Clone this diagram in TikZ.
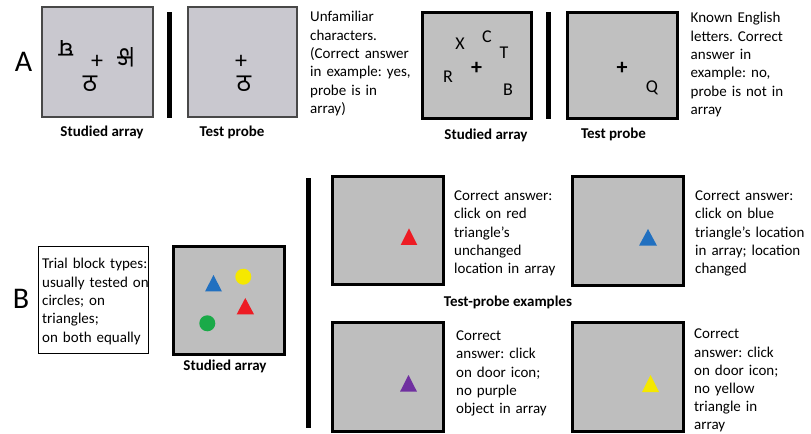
\documentclass[tikz,border=0pt]{standalone}
\usepackage{fontspec}
\setmainfont{Carlito}
\newfontfamily\devfont[Script=Devanagari]{Noto Sans}
\frenchspacing
\definecolor{boxAfill}{RGB}{201,200,207}
\definecolor{boxAline}{RGB}{72,72,72}
\definecolor{boxGray}{RGB}{192,192,192}
\definecolor{boxBGray}{RGB}{190,190,190}
\definecolor{triRed}{RGB}{237,28,36}
\definecolor{triBlue}{RGB}{33,112,192}
\definecolor{triYellow}{RGB}{245,232,0}
\definecolor{triGreen}{RGB}{26,170,72}
\definecolor{triPurple}{RGB}{112,48,160}
\tikzset{
  txt/.style={anchor=base west, inner sep=0pt, text width=150bp, align=left,
    font=\fontsize{15bp}{18.3bp}\selectfont\frenchspacing},
  txtb/.style={txt, font=\fontsize{15bp}{18.1bp}\selectfont\frenchspacing},
  capt/.style={anchor=base, inner sep=0pt, font=\fontsize{15bp}{18bp}\selectfont\bfseries},
  panel/.style={anchor=base, inner sep=0pt, font=\fontsize{30bp}{32bp}\selectfont},
  softbox/.style={draw=boxAline, line width=1.6bp, fill=boxAfill},
  hardbox/.style={draw=black, line width=3bp, fill=boxGray},
  bbox/.style={draw=black, line width=3bp, fill=boxBGray},
  bar/.style={fill=black, draw=none},
  glyph/.style={inner sep=0pt, font=\devfont\fontsize{25bp}{26bp}\selectfont},
  fixthin/.style={inner sep=0pt, font=\fontsize{24bp}{24bp}\selectfont},
  fixbold/.style={inner sep=0pt, font=\fontsize{22bp}{22bp}\selectfont\bfseries},
  letter/.style={inner sep=0pt, font=\fontsize{18bp}{18bp}\selectfont},
}
\begin{document}
\begin{tikzpicture}[x=1bp,y=-1bp]
\useasboundingbox (0,0) rectangle (811,434);

% ---------------- Panel A ----------------
\node[panel] (labA) at (23.5,72) {A};

\draw[softbox] (42,7) rectangle (153,117);
\node[glyph, rotate=180] (c1) at (66,48) {घ};
\node[fixthin] (p1) at (97,62) {+};
\node[glyph] (c2) at (90,84) {ठ};
\node[glyph, rotate=-90] (c3) at (125,57) {क};
\node[capt] (capA1) at (102,136.5) {Studied array};

\fill[bar] (167,12) rectangle (172,118);

\draw[softbox] (188,7) rectangle (297,117);
\node[fixthin] (p2) at (241,62) {+};
\node[glyph] (c4) at (244,84) {ठ};
\node[capt] (capA2) at (232,136.5) {Test probe};

\node[txt] (tA1) at (310,22) {Unfamiliar\\characters.\\(Correct answer\\in example: yes,\\probe is in\\array)};

\draw[hardbox] (422,13) rectangle (531,119);
\node[letter] (lX) at (460,44) {X};
\node[letter] (lC) at (487,37) {C};
\node[letter] (lT) at (504,53) {T};
\node[fixbold] (p3) at (476.5,68) {+};
\node[letter] (lR) at (448,77) {R};
\node[letter] (lB) at (508,89.5) {B};
\node[capt] (capA3) at (486,139.5) {Studied array};

\fill[bar] (546,12) rectangle (551,119);

\draw[hardbox] (567,13) rectangle (677,119);
\node[fixbold] (p4) at (622,68) {+};
\node[letter] (lQ) at (652,88) {Q};
\node[capt] (capA4) at (613.5,138.5) {Test probe};

\node[txt] (tA2) at (690.5,23) {Known English\\letters. Correct\\answer in\\example: no,\\probe is not in\\array};

% ---------------- Panel B ----------------
\node[panel] (labB) at (21,309) {B};

\draw[black, line width=1bp, fill=white] (38,247) rectangle (148,354);
\node[txt] (tB0) at (42,269) {Trial block types:\\usually tested on\\circles; on\\triangles;\\on both equally};

\draw[bbox] (173,247) rectangle (284,355);
\fill[triBlue] (205,291.5) -- (213.5,275) -- (222,291.5) -- cycle;
\fill[triYellow] (243.3,276.7) circle (8);
\fill[triRed] (236.7,314.3) -- (245.3,298) -- (254,314.3) -- cycle;
\fill[triGreen] (207.3,323.3) circle (8);
\node[capt] (capB) at (225,371) {Studied array};

\fill[bar] (306,178) rectangle (311,428);

\draw[bbox] (332,177) rectangle (443,285);
\fill[triRed] (400.7,245) -- (409,228.3) -- (417.3,245) -- cycle;
\node[txt] (tB1) at (454,200.5) {Correct answer:\\click on red\\triangle’s\\unchanged\\location in array};

\draw[bbox] (572,177) rectangle (683,286);
\fill[triBlue] (639,245.7) -- (648,229) -- (657,245.7) -- cycle;
\node[txt] (tB2) at (695,200.5) {Correct answer:\\click on blue\\triangle’s location\\in array; location\\changed};

\node[capt] (capB2) at (508,307) {Test-probe examples};

\draw[bbox] (332,323) rectangle (443,431);
\fill[triPurple] (400,391.7) -- (408.5,375) -- (417,391.7) -- cycle;
\node[txt] (tB3) at (456,340.5) {Correct\\answer: click\\on door icon;\\no purple\\object in array};

\draw[bbox] (572,323) rectangle (683,431);
\fill[triYellow] (642,392) -- (650.5,375) -- (659,392) -- cycle;
\node[txtb] (tB4) at (694,339) {Correct\\answer: click\\on door icon;\\no yellow\\triangle in\\array};
\end{tikzpicture}
\end{document}
